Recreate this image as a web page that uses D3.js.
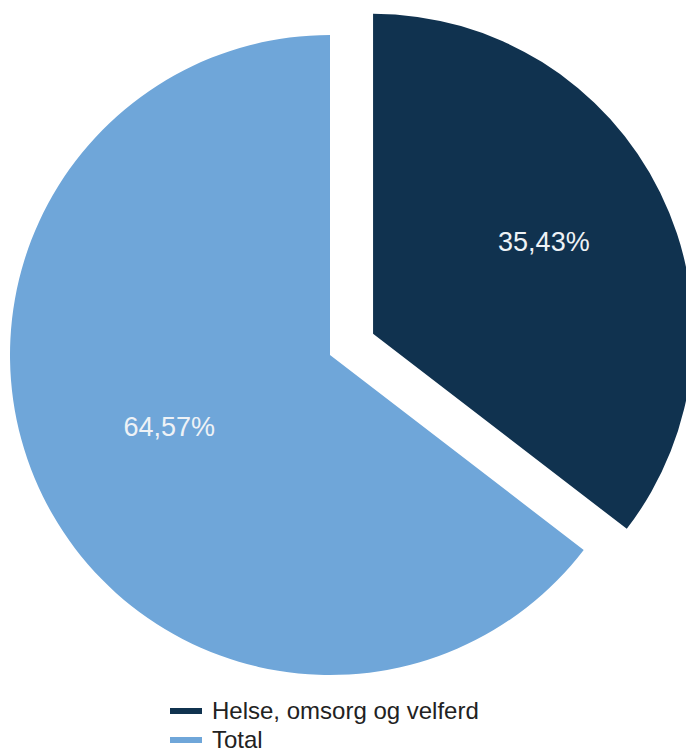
<!DOCTYPE html>
<html>
<head>
<meta charset="utf-8">
<script src="https://cdn.jsdelivr.net/npm/d3@7"></script>
<style>
  body { margin: 0; background: #fff; }
  svg { display: block; font-family: "Liberation Sans", Arial, sans-serif; }
</style>
</head>
<body>
<script>
const w = 686,
  h = 751;

const categories = ['Helse, omsorg og velferd', 'Total'];
const values = [35.43, 64.57];
const labels = ['35,43%', '64,57%'];
const colors = ['#10324f', '#6fa6d9'];

const cx = 330,
  cy = 355,
  r = 320,
  explode = 48;

const svg = d3.select('body').append('svg').attr('width', w).attr('height', h);

const pie = d3.pie().sort(null).value(d => d.value);
const slices = pie(categories.map((c, i) => ({ name: c, value: values[i], label: labels[i], color: colors[i] })));

const arc = d3.arc().innerRadius(0).outerRadius(r);
// label distance from centre differs a bit per slice
const labelArcs = [
  d3.arc().innerRadius(0).outerRadius(r * 1.19),
  d3.arc().innerRadius(0).outerRadius(r * 1.12)
];

const g = svg.append('g').attr('transform', `translate(${cx},${cy})`);

const slice = g
  .selectAll('g.slice')
  .data(slices)
  .enter()
  .append('g')
  .attr('class', 'slice')
  .attr('transform', (d, i) => {
    // first slice is pulled out
    if (i !== 0) return null;
    const a = (d.startAngle + d.endAngle) / 2;
    return `translate(${Math.sin(a) * explode},${-Math.cos(a) * explode})`;
  });

slice
  .append('path')
  .attr('d', arc)
  .attr('fill', d => d.data.color);

slice
  .append('text')
  .attr('transform', (d, i) => `translate(${labelArcs[i].centroid(d)})`)
  .attr('text-anchor', 'middle')
  .attr('dy', '0.05em')
  .attr('fill', '#eef2f6')
  .style('font-size', '27px')
  .text(d => d.data.label);

// legend
const legend = svg
  .append('g')
  .attr('transform', 'translate(170,711)')
  .selectAll('g')
  .data(categories)
  .enter()
  .append('g')
  .attr('transform', (d, i) => `translate(0,${i * 29})`);

legend
  .append('rect')
  .attr('x', 0)
  .attr('y', -3)
  .attr('width', 32)
  .attr('height', 6)
  .attr('fill', (d, i) => colors[i]);

legend
  .append('text')
  .attr('x', 42)
  .attr('y', 8)
  .attr('fill', '#222')
  .style('font-size', '24px')
  .text(d => d);
</script>
</body>
</html>
